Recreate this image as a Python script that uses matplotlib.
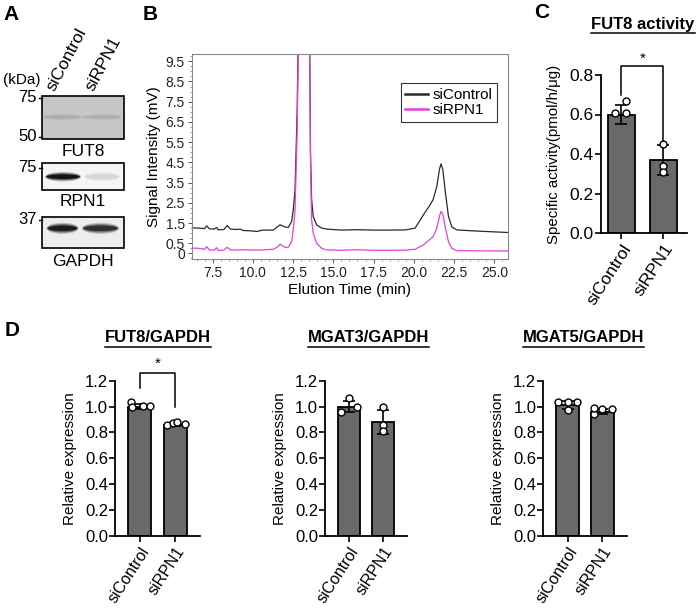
import matplotlib
matplotlib.use('Agg')
import matplotlib.pyplot as plt
import numpy as np
from matplotlib.patches import Rectangle, Ellipse
from matplotlib.ticker import MultipleLocator

plt.rcParams['font.family'] = ['Liberation Sans', 'DejaVu Sans']

W, H = 700, 613

# ---------------- data ----------------
groups = ['siControl', 'siRPN1']

# Panel A (western blot)
blot_names = ['FUT8', 'RPN1', 'GAPDH']
blot_markers = [['75', '50'], ['75'], ['37']]
blot_background = [0.22, 0.04, 0.07]
band_intensity = [[0.13, 0.12], [0.92, 0.12], [0.88, 0.80]]

# Panel B (chromatogram)
time_ctrl = [6.2, 6.6, 7.0, 7.13, 7.3, 7.6, 7.75, 7.85, 8.2, 8.41, 8.6, 9.0, 9.2, 9.4,
             9.93, 10.24, 10.6, 11.27, 11.5, 11.69, 12.0, 12.2, 12.41, 12.51, 12.62,
             12.75, 12.88, 13.2, 13.5, 13.58, 13.65, 13.75, 13.96, 14.27, 14.58, 15.5,
             16.5, 17.5, 18.5, 19.5, 20.08, 20.6, 21.01, 21.2, 21.43, 21.59, 21.69,
             21.8, 21.94, 22.15, 22.36, 22.67, 23.5, 24.5, 25.85]
signal_ctrl = [1.26, 1.25, 1.22, 1.36, 1.21, 1.2, 1.28, 1.16, 1.18, 1.38, 1.2, 1.18, 1.2, 1.13,
               1.11, 1.08, 1.15, 1.15, 1.3, 1.41, 1.3, 1.28, 1.58, 2.16, 3.15,
               7.0, 14.0, 20.0, 14.0, 5.0, 2.65, 1.83, 1.41, 1.25, 1.2, 1.15,
               1.17, 1.15, 1.15, 1.16, 1.25, 1.91, 2.4, 2.66, 3.32, 4.15, 4.43,
               4.15, 3.15, 1.83, 1.3, 1.16, 1.12, 1.08, 1.03]
time_rpn1 = [6.2, 6.6, 7.0, 7.13, 7.3, 7.6, 7.75, 7.85, 8.2, 8.41, 8.6, 9.0, 9.4, 9.93,
             10.6, 11.27, 11.5, 11.69, 12.0, 12.2, 12.41, 12.51, 12.62, 12.75, 12.88,
             13.2, 13.5, 13.58, 13.65, 13.75, 13.96, 14.27, 14.58, 15.5, 16.5, 17.5,
             18.5, 19.5, 20.08, 20.6, 21.2, 21.43, 21.59, 21.69, 21.8, 21.94, 22.15,
             22.36, 22.67, 23.5, 24.5, 25.85]
signal_rpn1 = [0.26, 0.25, 0.2, 0.33, 0.17, 0.16, 0.28, 0.14, 0.16, 0.3, 0.17, 0.16, 0.18, 0.16,
               0.17, 0.2, 0.3, 0.45, 0.3, 0.3, 0.58, 1.16, 2.16, 6.0, 13.0,
               20.0, 13.0, 4.5, 1.66, 1.0, 0.5, 0.25, 0.17, 0.15, 0.18, 0.15,
               0.15, 0.16, 0.2, 0.42, 0.83, 1.25, 1.83, 2.07, 1.95, 1.33, 0.58,
               0.25, 0.13, 0.13, 0.12, 0.12]
b_xticks = [7.5, 10.0, 12.5, 15.0, 17.5, 20.0, 22.5, 25.0]
b_yticks = [0, 0.5, 1.5, 2.5, 3.5, 4.5, 5.5, 6.5, 7.5, 8.5, 9.5]

# Panel C (FUT8 activity)
act_mean = [0.60, 0.37]
act_sd = [0.05, 0.075]
act_points = [[0.67, 0.61, 0.61], [0.45, 0.34, 0.31]]

# Panel D (qPCR)
d_titles = ['FUT8/GAPDH', 'MGAT3/GAPDH', 'MGAT5/GAPDH']
d_mean = [[1.0, 0.86], [1.0, 0.88], [1.01, 0.96]]
d_sd = [[0.02, 0.012], [0.045, 0.095], [0.03, 0.02]]
d_points = [
    [[1.037, 0.994, 1.004, 1.004], [0.857, 0.87, 0.878, 0.862]],
    [[1.063, 0.96, 0.995], [0.994, 0.857, 0.813]],
    [[1.037, 1.037, 1.037, 0.973], [0.942, 0.986, 0.98, 0.98]],
]

# ---------------- style / layout ----------------
c_offsets = [[0.1, -0.15, 0.1], [0.0, 0.0, 0.0]]
d_offsets = [
    [[-0.25, -0.22, 0.09, 0.28], [-0.24, -0.05, 0.05, 0.29]],
    [[0.0, -0.24, 0.24], [0.0, 0.0, 0.0]],
    [[-0.28, 0.0, 0.28, 0.0], [-0.25, -0.25, 0.0, 0.27]],
]
BAR_COLOR = '#696969'
PINK = '#e83fd6'


def rect(l, t, r, b):
    return [l / W, 1 - b / H, (r - l) / W, (b - t) / H]


fig = plt.figure(figsize=(7.0, 6.13), dpi=100)
ov = fig.add_axes([0, 0, 1, 1])
ov.set_xlim(0, W)
ov.set_ylim(H, 0)
ov.axis('off')
ov.set_zorder(-1)

# panel letters
for letter, (x, y) in zip('ABCD', [(3, 15), (143, 14), (534, 12), (5, 331)]):
    ov.text(x, y, letter, fontsize=15, fontweight='bold', ha='left', va='center')

# ---------------- Panel A ----------------
box_l, box_r = 41.7, 124
box_rows = [(95.7, 139), (163, 190), (216.7, 248.3)]
marker_y = [[97.7, 136.7], [168], [220]]
band_y = [117, 176.7, 228.3]
band_h = [4, 6, 7]
band_geo = [[(62, 38), (102, 38)], [(63, 34), (102, 34)], [(62.5, 30), (100.5, 35)]]
label_y = [152, 201, 262]

for i, name in enumerate(blot_names):
    t, b = box_rows[i]
    bg = 1 - blot_background[i]
    ov.add_patch(Rectangle((box_l, t), box_r - box_l, b - t, facecolor=str(bg),
                           edgecolor='black', lw=1.2, zorder=1))
    for (cx, w), inten in zip(band_geo[i], band_intensity[i]):
        col = bg * (1 - inten)
        for sc, a in [(1.6, 0.25), (1.2, 0.5), (0.8, 1.0)]:
            ov.add_patch(Ellipse((cx, band_y[i]), w * (0.9 + 0.1 * sc), band_h[i] * sc,
                                 facecolor=str(col), edgecolor='none', alpha=a, zorder=2))
    for m, my in zip(blot_markers[i], marker_y[i]):
        ov.plot([38.5, box_l], [my, my], color='black', lw=1)
        ov.text(37, my, m, fontsize=12, ha='right', va='center')
    ov.text((box_l + box_r) / 2, label_y[i], name, fontsize=12.5, ha='center', va='center')

ov.text(22, 80, '(kDa)', fontsize=11, ha='center', va='center')
for g, x in zip(groups, [54, 93]):
    ov.text(x, 92, g, fontsize=12.5, rotation=62, ha='left', va='baseline',
            rotation_mode='anchor')

# ---------------- Panel B ----------------
axb = fig.add_axes(rect(191.7, 54, 508, 259))
axb.set_facecolor('none')
axb.plot(time_ctrl, signal_ctrl, color='#2a2a2a', lw=0.9, label='siControl')
axb.plot(time_rpn1, signal_rpn1, color=PINK, lw=0.9, label='siRPN1')
axb.set_xlim(6.2, 25.85)
axb.set_ylim(-0.28, 9.86)
axb.set_xticks(b_xticks)
axb.set_xticklabels(['%.1f' % v for v in b_xticks])
axb.set_yticks(b_yticks)
axb.set_yticklabels(['0' if v == 0 else '%.1f' % v for v in b_yticks])
axb.xaxis.set_minor_locator(MultipleLocator(0.5))
axb.yaxis.set_minor_locator(MultipleLocator(0.25))
axb.tick_params(which='major', direction='out', length=3, width=0.7, labelsize=10,
                colors='#555555', labelcolor='#222222', pad=2)
axb.tick_params(which='minor', direction='out', length=1.5, width=0.5, colors='#777777')
for s in axb.spines.values():
    s.set_color('#8a8a8a')
    s.set_linewidth(0.8)
axb.set_xlabel('Elution Time (min)', fontsize=11, labelpad=2)
axb.set_ylabel('Signal Intensity (mV)', fontsize=11, labelpad=3)
leg = axb.legend(loc='upper right', bbox_to_anchor=(0.966, 0.857), fontsize=11,
                 frameon=True, fancybox=False, edgecolor='black', handlelength=1.5,
                 handletextpad=0.3, labelspacing=0.1, borderpad=0.3, borderaxespad=0)
leg.get_frame().set_linewidth(0.8)
for ln in leg.get_lines():
    ln.set_linewidth(1.8)


# ---------------- bar helpers ----------------
def bar_panel(ax, means, sds, points, offsets, ymax, ystep, xlim, ticksize, xlabsize):
    x = np.arange(len(groups))
    ax.set_facecolor('none')
    ax.bar(x, means, width=0.65, color=BAR_COLOR, edgecolor='black', linewidth=1.3, zorder=2)
    ax.errorbar(x, means, yerr=sds, fmt='none', ecolor='black', elinewidth=1.2,
                capsize=4, capthick=1.2, zorder=3)
    for xi, pts, offs in zip(x, points, offsets):
        ax.plot(xi + np.array(offs), pts, 'o', ms=5, mfc='white', mec='black', mew=1.0,
                zorder=4, clip_on=False)
    ax.set_xlim(*xlim)
    ax.set_ylim(0, ymax)
    yt = np.round(np.arange(0, ymax + 1e-9, ystep), 2)
    ax.set_yticks(yt)
    ax.set_yticklabels(['%.1f' % v for v in yt])
    ax.set_xticks(x)
    ax.set_xticklabels(groups, rotation=57, ha='right', va='top', rotation_mode='anchor')
    ax.tick_params(axis='y', labelsize=ticksize, length=4, width=1.2, pad=1)
    ax.tick_params(axis='x', labelsize=xlabsize, length=4, width=1.2, pad=2)
    for s in ['top', 'right']:
        ax.spines[s].set_visible(False)
    for s in ['left', 'bottom']:
        ax.spines[s].set_linewidth(1.3)


def bracket(ax, y_top, y_left, y_right, star_y):
    ax.plot([0, 0, 1, 1], [y_left, y_top, y_top, y_right], color='black', lw=1.1,
            clip_on=False, zorder=5)
    ax.text(0.5, star_y, '*', ha='center', va='center', fontsize=11)


underlines = []


def title(x, y, s, size=12):
    t = ov.text(x, y, s, fontsize=size, fontweight='bold', ha='center', va='center')
    underlines.append(t)


# ---------------- Panel C ----------------
axc = fig.add_axes(rect(600.7, 75, 686.7, 233))
bar_panel(axc, act_mean, act_sd, act_points, c_offsets, 0.8, 0.2, (-0.5, 1.57), 12.5, 12.5)
axc.set_ylabel('Specific activity(pmol/h/\u03bcg)', fontsize=10.8, labelpad=6)
bracket(axc, 0.845, 0.70, 0.465, 0.88)
title(643, 24, 'FUT8 activity')

# ---------------- Panel D ----------------
d_rects = [(115, 200), (325, 406.7), (543.3, 626.7)]
d_title_x = [158, 368.5, 583.3]
for i in range(3):
    l, r = d_rects[i]
    ax = fig.add_axes(rect(l, 380.7, r, 535.7))
    bar_panel(ax, d_mean[i], d_sd[i], d_points[i], d_offsets[i], 1.2, 0.2, (-0.7, 1.7), 12, 11.5)
    ax.set_ylabel('Relative expression', fontsize=11, labelpad=6)
    title(d_title_x[i], 338, d_titles[i])
    if i == 0:
        bracket(ax, 1.262, 1.14, 0.995, 1.33)

# underline titles
fig.canvas.draw()
inv = ov.transData.inverted()
for t in underlines:
    bb = t.get_window_extent()
    (x0, y0), (x1, y1) = inv.transform([[bb.x0, bb.y0], [bb.x1, bb.y1]])
    ov.plot([x0, x1], [y0 + 1.5, y0 + 1.5], color='black', lw=1.1)

fig.savefig('out.png', dpi=100)
